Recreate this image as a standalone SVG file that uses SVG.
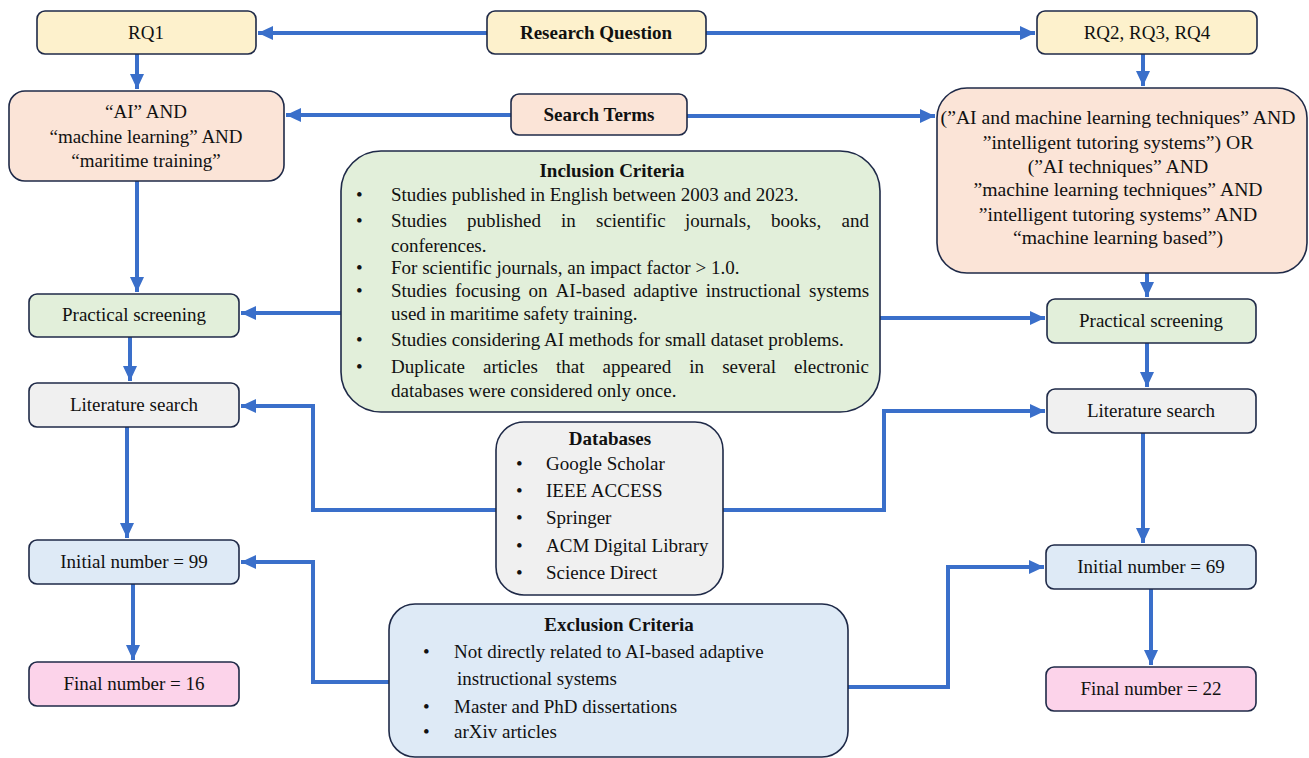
<svg xmlns="http://www.w3.org/2000/svg" width="1309" height="758" viewBox="0 0 1309 758" font-family="'Liberation Serif', Tinos, 'Times New Roman', serif">
<defs>
<marker id="ah" markerUnits="userSpaceOnUse" markerWidth="16" markerHeight="16" viewBox="0 0 16 16" refX="15" refY="8" orient="auto">
<path d="M0,1 L15,8 L0,15 Z" fill="#3a6fca"/>
</marker>
<style>
.b{stroke:#1f2a48;stroke-width:1.6}
.y{fill:#fdf1cc}.p{fill:#fbe4d7}.g{fill:#e2efda}.gr{fill:#f0f0f0}.bl{fill:#deeaf6}.pk{fill:#fcd3ea}
text{font-family:'Liberation Serif', Tinos, 'Times New Roman', serif;font-size:19px;fill:#111}
.c{text-anchor:middle}
.bd{font-weight:bold}
.lg{font-size:19.7px}
.cn{fill:none;stroke:#3a6fca;stroke-width:4}
</style>
</defs>
<rect width="1309" height="758" fill="#ffffff"/>

<g id="connectors">
<path class="cn" d="M487,33 H258" marker-end="url(#ah)"/>
<path class="cn" d="M706,33 H1035" marker-end="url(#ah)"/>
<path class="cn" d="M137,54 V89" marker-end="url(#ah)"/>
<path class="cn" d="M1143,54 V86" marker-end="url(#ah)"/>
<path class="cn" d="M511,115 H286" marker-end="url(#ah)"/>
<path class="cn" d="M687,116 H935" marker-end="url(#ah)"/>
<path class="cn" d="M137,181 V292" marker-end="url(#ah)"/>
<path class="cn" d="M341,313 H241" marker-end="url(#ah)"/>
<path class="cn" d="M880,318 H1045" marker-end="url(#ah)"/>
<path class="cn" d="M1147,273 V297" marker-end="url(#ah)"/>
<path class="cn" d="M130,337 V381" marker-end="url(#ah)"/>
<path class="cn" d="M1147,343 V387" marker-end="url(#ah)"/>
<path class="cn" d="M496,510 H313 V406 H241" marker-end="url(#ah)"/>
<path class="cn" d="M723,510 H884 V411 H1045" marker-end="url(#ah)"/>
<path class="cn" d="M127,427 V538" marker-end="url(#ah)"/>
<path class="cn" d="M1143,433 V543" marker-end="url(#ah)"/>
<path class="cn" d="M133,584 V660" marker-end="url(#ah)"/>
<path class="cn" d="M1151,589 V665" marker-end="url(#ah)"/>
<path class="cn" d="M389,682 H313 V562 H241" marker-end="url(#ah)"/>
<path class="cn" d="M848,687 H948 V567 H1044" marker-end="url(#ah)"/>
</g>

<g id="rq1"><rect class="b y" x="37" y="11" width="219" height="43" rx="8"/><text class="c" x="146" y="39">RQ1</text></g>
<g id="research-question"><rect class="b y" x="487" y="11" width="219" height="43" rx="8"/><text class="c bd" x="596" y="39">Research Question</text></g>
<g id="rq234"><rect class="b y" x="1037" y="11" width="220" height="43" rx="8"/><text class="c" x="1147" y="39">RQ2, RQ3, RQ4</text></g>

<g id="search-terms"><rect class="b p" x="511" y="94" width="176" height="41" rx="8"/><text class="c bd" x="599" y="121">Search Terms</text></g>

<g id="terms-left"><rect class="b p" x="9" y="91" width="275" height="90" rx="16"/>
<text class="c" x="146" y="118">“AI” AND</text>
<text class="c" x="146" y="143">“machine learning” AND</text>
<text class="c" x="146" y="167">“maritime training”</text>
</g>

<g id="terms-right"><rect class="b p" x="937" y="88" width="370" height="185" rx="30"/>
<text class="c lg" x="1118" y="124">(”AI and machine learning techniques” AND</text>
<text class="c lg" x="1118" y="149">”intelligent tutoring systems”) OR</text>
<text class="c lg" x="1118" y="173">(”AI techniques” AND</text>
<text class="c lg" x="1118" y="196">”machine learning techniques” AND</text>
<text class="c lg" x="1118" y="221">”intelligent tutoring systems” AND</text>
<text class="c lg" x="1118" y="244">“machine learning based”)</text>
</g>

<g id="inclusion"><rect class="b g" x="341" y="151" width="539" height="261" rx="40"/>
<text class="c bd" x="612" y="177">Inclusion Criteria</text>
<text x="356" y="201">•</text><text x="391" y="201">Studies published in English between 2003 and 2023.</text>
<text x="356" y="227">•</text><text y="227"><tspan x="391">Studies</tspan><tspan x="467">published</tspan><tspan x="561">in</tspan><tspan x="596">scientific</tspan><tspan x="685">journals,</tspan><tspan x="771">books,</tspan><tspan x="841.5">and</tspan></text>
<text x="391" y="252">conferences.</text>
<text x="356" y="274">•</text><text x="391" y="274">For scientific journals, an impact factor &gt; 1.0.</text>
<text x="356" y="297">•</text><text y="297"><tspan x="391">Studies</tspan><tspan x="455">focusing</tspan><tspan x="528.5">on</tspan><tspan x="555.6">AI-based</tspan><tspan x="633.3">adaptive</tspan><tspan x="705.8">instructional</tspan><tspan x="809">systems</tspan></text>
<text x="391" y="320">used in maritime safety training.</text>
<text x="356" y="346">•</text><text x="391" y="346">Studies considering AI methods for small dataset problems.</text>
<text x="356" y="373">•</text><text y="373"><tspan x="391">Duplicate</tspan><tspan x="483">articles</tspan><tspan x="556">that</tspan><tspan x="602.6">appeared</tspan><tspan x="689.3">in</tspan><tspan x="722.2">several</tspan><tspan x="794.1">electronic</tspan></text>
<text x="391" y="397">databases were considered only once.</text>
</g>

<g id="practical-left"><rect class="b g" x="29" y="294" width="210" height="43" rx="8"/><text class="c" x="134" y="321">Practical screening</text></g>
<g id="practical-right"><rect class="b g" x="1047" y="299" width="209" height="44" rx="8"/><text class="c" x="1151" y="327">Practical screening</text></g>
<g id="lit-left"><rect class="b gr" x="29" y="383" width="210" height="44" rx="8"/><text class="c" x="134" y="411">Literature search</text></g>
<g id="lit-right"><rect class="b gr" x="1047" y="389" width="209" height="44" rx="8"/><text class="c" x="1151" y="417">Literature search</text></g>

<g id="databases"><rect class="b gr" x="496" y="422" width="227" height="173" rx="28"/>
<text class="c bd" x="610" y="445">Databases</text>
<text x="516" y="470">•</text><text x="546" y="470">Google Scholar</text>
<text x="516" y="497">•</text><text x="546" y="497">IEEE ACCESS</text>
<text x="516" y="524">•</text><text x="546" y="524">Springer</text>
<text x="516" y="552">•</text><text x="546" y="552">ACM Digital Library</text>
<text x="516" y="579">•</text><text x="546" y="579">Science Direct</text>
</g>

<g id="initial-left"><rect class="b bl" x="29" y="540" width="210" height="44" rx="8"/><text class="c" x="134" y="568">Initial number = 99</text></g>
<g id="initial-right"><rect class="b bl" x="1046" y="545" width="210" height="44" rx="8"/><text class="c" x="1151" y="573">Initial number = 69</text></g>
<g id="final-left"><rect class="b pk" x="29" y="662" width="210" height="44" rx="8"/><text class="c" x="134" y="690">Final number = 16</text></g>
<g id="final-right"><rect class="b pk" x="1046" y="667" width="210" height="44" rx="8"/><text class="c" x="1151" y="695">Final number = 22</text></g>

<g id="exclusion"><rect class="b bl" x="389" y="604" width="459" height="153" rx="26"/>
<text class="c bd" x="619" y="631">Exclusion Criteria</text>
<text x="423" y="658">•</text><text x="454" y="658">Not directly related to AI-based adaptive</text>
<text x="457" y="685">instructional systems</text>
<text x="423" y="713">•</text><text x="454" y="713">Master and PhD dissertations</text>
<text x="423" y="738">•</text><text x="454" y="738">arXiv articles</text>
</g>
</svg>
